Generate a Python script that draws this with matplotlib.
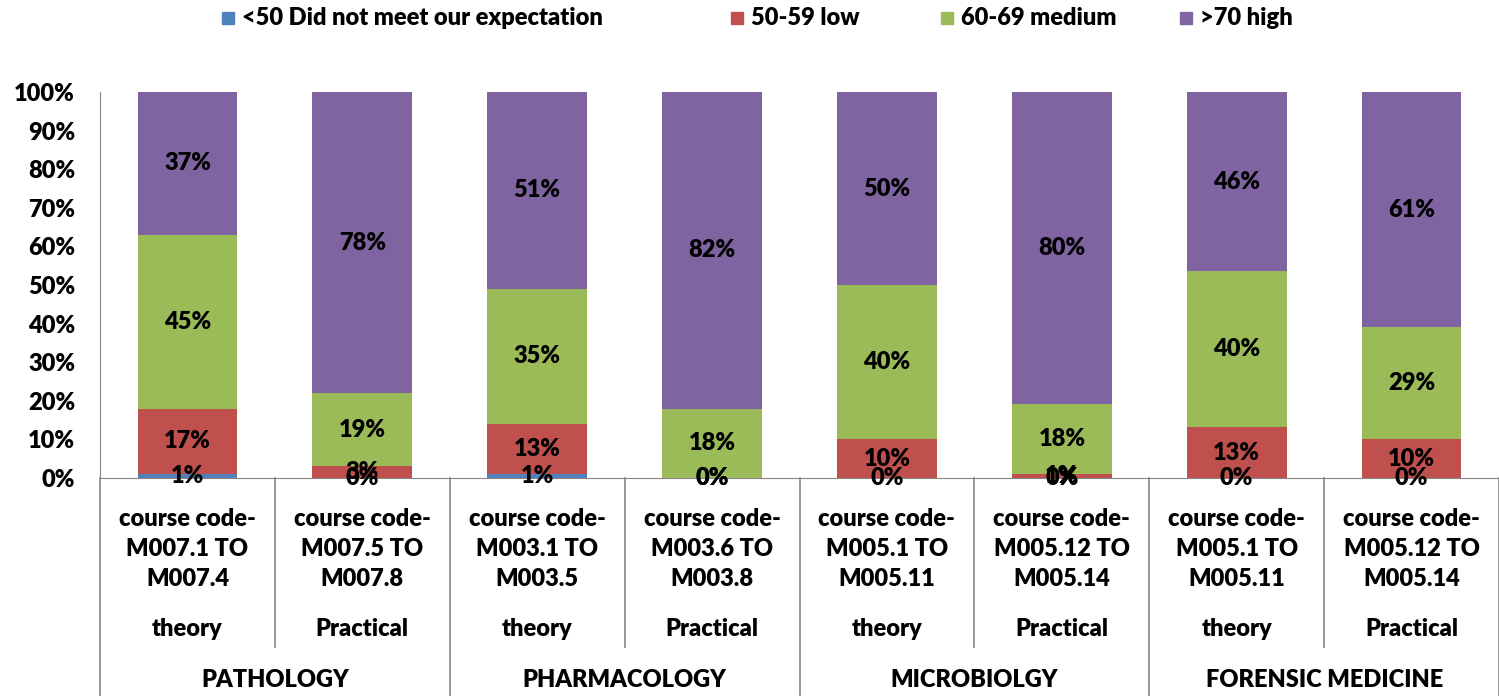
import numpy as np
import matplotlib.pyplot as plt
from matplotlib.patches import Rectangle
import matplotlib.transforms as mtransforms

plt.rcParams['font.family'] = ['Lato', 'DejaVu Sans']
W = 'heavy'
FS = 17

course_codes = ['course code-\nM007.1 TO\nM007.4', 'course code-\nM007.5 TO\nM007.8',
                'course code-\nM003.1 TO\nM003.5', 'course code-\nM003.6 TO\nM003.8',
                'course code-\nM005.1 TO\nM005.11', 'course code-\nM005.12 TO\nM005.14',
                'course code-\nM005.1 TO\nM005.11', 'course code-\nM005.12 TO\nM005.14']
kinds = ['theory', 'Practical'] * 4
subjects = ['PATHOLOGY', 'PHARMACOLOGY', 'MICROBIOLGY', 'FORENSIC MEDICINE']

series_names = ['<50 Did not meet our expectation', '50-59 low', '60-69 medium', '>70 high']
below_50 = [1, 0, 1, 0, 0, 0, 0, 0]
low = [17, 3, 13, 0, 10, 1, 13, 10]
medium = [45, 19, 35, 18, 40, 18, 40, 29]
high = [37, 78, 51, 82, 50, 80, 46, 61]
colors = ['#4F81BD', '#C0504D', '#9BBB59', '#8064A2']

data = np.array([below_50, low, medium, high], dtype=float)
share = data / data.sum(axis=0)  # excel 100% stacked

fig = plt.figure(figsize=(14.99, 6.96), dpi=100)
ax = fig.add_axes([100 / 1499, 1 - 478 / 696, 1399 / 1499, 386 / 696])

x = np.arange(len(course_codes))
bottom = np.zeros(len(x))
for i in range(4):
    ax.bar(x, share[i], width=0.57, bottom=bottom, color=colors[i])
    for j in range(len(x)):
        ax.text(x[j], bottom[j] + share[i][j] / 2, '%d%%' % data[i][j],
                ha='center', va='center', fontsize=FS, fontweight=W)
    bottom += share[i]

ax.set_xlim(-0.5, len(x) - 0.5)
ax.set_ylim(0, 1)
ax.set_yticks(np.arange(0, 1.01, 0.1))
ax.set_yticklabels(['%d%%' % v for v in range(0, 101, 10)], fontsize=FS, fontweight=W)
ax.set_xticks([])
for s in ['top', 'right']:
    ax.spines[s].set_visible(False)
ax.spines['left'].set_color('#868686')
ax.spines['bottom'].set_color('#868686')
ax.tick_params(axis='y', length=0, pad=18)

# category table under the axis
trans = mtransforms.blended_transform_factory(ax.transData, ax.transAxes)
for j in range(len(x)):
    ax.text(x[j], -0.184, course_codes[j], transform=trans, ha='center', va='center',
            fontsize=FS, fontweight=W, linespacing=1.45)
    ax.text(x[j], -0.391, kinds[j], transform=trans, ha='center', va='center',
            fontsize=FS, fontweight=W)
for g in range(len(subjects)):
    ax.text(2 * g + 0.5, -0.523, subjects[g], transform=trans, ha='center', va='center',
            fontsize=FS, fontweight=W)

for b in np.arange(-0.5, len(x), 1.0):
    low_end = -0.565 if (b + 0.5) % 2 == 0 else -0.437
    ax.plot([b, b], [0, low_end], transform=trans, color='#868686', lw=1.2, clip_on=False)

# legend along the top
leg_x = [228, 737, 947, 1186]
for k in range(4):
    fig.patches.append(Rectangle(((leg_x[k] - 6) / 1499, 1 - 24 / 696), 12 / 1499, 12 / 696,
                                 transform=fig.transFigure, color=colors[k]))
    fig.text((leg_x[k] + 14) / 1499, 1 - 18 / 696, series_names[k], ha='left', va='center',
             fontsize=FS, fontweight=W)

fig.savefig('out.png', dpi=100)
